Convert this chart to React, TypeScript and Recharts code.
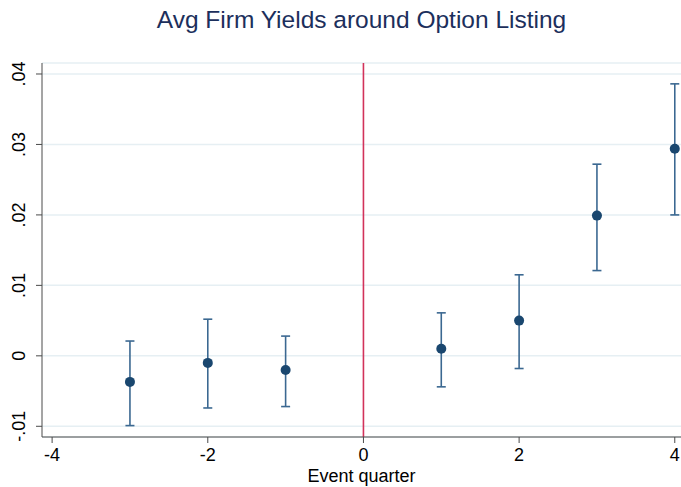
import { ComposedChart, Scatter, ErrorBar, XAxis, YAxis, CartesianGrid, ReferenceLine } from "recharts";

const quarters = [-3, -2, -1, 1, 2, 3, 4];
const means = [-0.0037, -0.001, -0.002, 0.001, 0.005, 0.0199, 0.0294];
const lowers = [-0.0099, -0.0074, -0.0072, -0.0044, -0.0018, 0.0121, 0.02];
const uppers = [0.0021, 0.0052, 0.0028, 0.0061, 0.0115, 0.0272, 0.0386];

const xTicks = [-4, -2, 0, 2, 4];
const yTicks = [-0.01, 0, 0.01, 0.02, 0.03, 0.04];
const yTickLabels = ["-.01", "0", ".01", ".02", ".03", ".04"];

const data = quarters.map((q, i) => ({
  q,
  mean: means[i],
  err: [means[i] - lowers[i], uppers[i] - means[i]],
}));

const FONT = "'Liberation Sans', Arial, sans-serif";
const AXIS = "#4a4a4a";

function YTick(props: any) {
  const { x, y, payload } = props;
  const idx = yTicks.findIndex((t) => Math.abs(t - payload.value) < 1e-9);
  const label = idx >= 0 ? yTickLabels[idx] : String(payload.value);
  const tx = x - 9;
  return (
    <text
      x={tx}
      y={y}
      transform={`rotate(-90 ${tx} ${y})`}
      textAnchor="middle"
      fontSize={18}
      fontFamily={FONT}
      fill="#000"
    >
      {label}
    </text>
  );
}

function Dot(props: any) {
  const { cx, cy } = props;
  return <circle cx={cx} cy={cy} r={5} fill="#1a476f" />;
}

export default function App() {
  return (
    <div style={{ position: "absolute", left: 0, top: 0, width: 681, height: 487, background: "#fff" }}>
      <div
        style={{
          position: "absolute",
          left: 42,
          top: 6,
          width: 639,
          textAlign: "center",
          fontFamily: FONT,
          fontSize: 24.5,
          color: "#1c2f5c",
        }}
      >
        Avg Firm Yields around Option Listing
      </div>
      <ComposedChart width={681} height={487} data={data} margin={{ top: 63, right: 0, bottom: 0, left: 0 }}>
        <CartesianGrid horizontal vertical={false} stroke="#e6eff3" strokeWidth={1.5} />
        <XAxis
          type="number"
          dataKey="q"
          domain={[-4.13, 4.08]}
          allowDataOverflow
          ticks={xTicks}
          interval={0}
          height={50}
          stroke={AXIS}
          tickSize={6}
          tick={{ fontSize: 18, fill: "#000", fontFamily: FONT, dy: 3 }}
          label={{ value: "Event quarter", position: "insideBottom", offset: 5, fontSize: 18, fill: "#000", fontFamily: FONT }}
        />
        <YAxis
          type="number"
          dataKey="mean"
          domain={[-0.01152, 0.04156]}
          allowDataOverflow
          ticks={yTicks}
          interval={0}
          width={42}
          stroke={AXIS}
          tickSize={6}
          tick={<YTick />}
        />
        <ReferenceLine x={0} stroke="#d2325a" strokeWidth={1.6} />
        <Scatter dataKey="mean" isAnimationActive={false} shape={<Dot />}>
          <ErrorBar dataKey="err" direction="y" width={4.5} stroke="#3b6891" strokeWidth={1.6} isAnimationActive={false} />
        </Scatter>
      </ComposedChart>
    </div>
  );
}
